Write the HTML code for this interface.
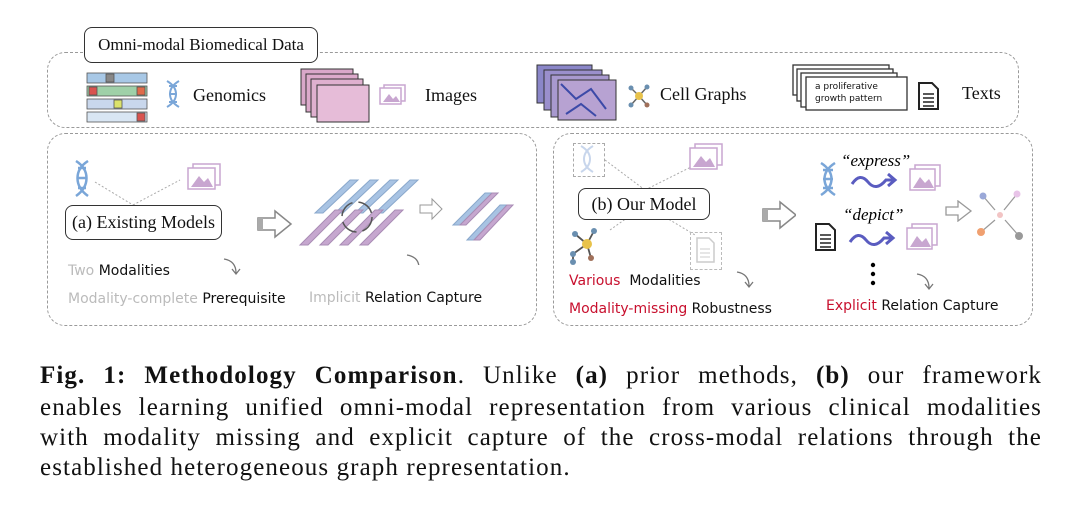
<!DOCTYPE html>
<html><head><meta charset="utf-8"><style>
body{margin:0;width:1080px;height:506px;background:#fff;position:relative;overflow:hidden;font-family:"Liberation Serif",serif}
.a{position:absolute}
.dash{position:absolute;border:1.5px dashed #9a9a9a;border-radius:18px}
.lbl{position:absolute;border:1.3px solid #333;border-radius:8px;background:#fff;font-size:17px;color:#111;text-align:center}
.sr{font-family:"Liberation Serif",serif;font-size:18px;color:#111}
.hand{font-family:"DejaVu Sans",sans-serif;font-size:14px;color:#111;white-space:nowrap}
.g{color:#bbb}.r{color:#c8102e}
.cap{position:absolute;left:40px;width:1002px;font-size:25px;letter-spacing:1.1px;color:#111;text-align:justify;text-align-last:justify;white-space:nowrap;line-height:30px}
</style></head><body>
<div class="dash" style="left:47px;top:52px;width:970px;height:74px"></div>
<div class="lbl" style="left:84px;top:27px;width:232px;height:34px;line-height:34px">Omni-modal Biomedical Data</div>
<svg class="a" style="left:86px;top:72px" width="64" height="52">
<g stroke="#555" stroke-width="0.8">
<rect x="1" y="1" width="60" height="10" fill="#a8c8e6"/><rect x="1" y="14" width="60" height="10" fill="#9fd0a8"/><rect x="1" y="27" width="60" height="10" fill="#c9d7ec"/><rect x="1" y="40" width="60" height="10" fill="#d9e6f3"/>
<rect x="3" y="15" width="8" height="8" fill="#d9534f"/><rect x="51" y="15" width="8" height="8" fill="#e06b4a"/><rect x="28" y="28" width="8" height="8" fill="#dbe26b"/><rect x="51" y="41" width="8" height="8" fill="#d9534f"/><rect x="20" y="2" width="8" height="8" fill="#888"/></g></svg>
<svg class="a" style="left:165px;top:80px" width="16" height="28"><path d="M2 1 C14 8 14 20 2 27 M14 1 C2 8 2 20 14 27 M4 6h8M4 14h8M4 22h8" stroke="#7aa6d8" stroke-width="2" fill="none"/></svg>
<div class="a sr" style="left:193px;top:85px">Genomics</div>
<svg class="a" style="left:300px;top:68px" width="72" height="56">
<rect x="1" y="1" width="52" height="36" fill="#d9a7c9" stroke="#333"/><rect x="6" y="6" width="52" height="38" fill="#dcaacb" stroke="#333"/><rect x="11" y="11" width="52" height="38" fill="#dfb0cf" stroke="#333"/><rect x="17" y="17" width="52" height="37" fill="#e6bcd8" stroke="#333"/></svg>
<svg class="a" style="left:379px;top:84px" width="28" height="22"><rect x="5" y="1" width="21" height="16" fill="none" stroke="#c8a6d0" stroke-width="1.5"/><rect x="1" y="4" width="21" height="16" fill="#fff" stroke="#c8a6d0" stroke-width="1.5"/><path d="M4 18 L10 10 L14 15 L17 12 L21 18z" fill="#c8a6d0"/></svg>
<div class="a sr" style="left:425px;top:85px">Images</div>
<svg class="a" style="left:536px;top:64px" width="84" height="58">
<rect x="1" y="1" width="55" height="38" fill="#8a86c8" stroke="#333"/><rect x="8" y="6" width="58" height="40" fill="#9a8fcc" stroke="#333"/><rect x="15" y="11" width="58" height="42" fill="#a899cf" stroke="#333"/><rect x="22" y="16" width="58" height="40" fill="#b7a2d2" stroke="#333"/>
<path d="M25 20 L40 35 L55 25 L70 45 M30 50 L45 40 L60 52" stroke="#3c4aa8" stroke-width="2" fill="none"/></svg>
<svg class="a" style="left:627px;top:83px" width="24" height="26"><g stroke="#666" stroke-width="1.5"><line x1="12" y1="13" x2="4" y2="5"/><line x1="12" y1="13" x2="20" y2="4"/><line x1="12" y1="13" x2="4" y2="22"/><line x1="12" y1="13" x2="20" y2="22"/></g><circle cx="12" cy="13" r="4" fill="#e8c24a"/><circle cx="4" cy="5" r="2.5" fill="#6a8fb0"/><circle cx="20" cy="4" r="2.5" fill="#6a8fb0"/><circle cx="4" cy="22" r="2.5" fill="#6a8fb0"/><circle cx="20" cy="22" r="2.5" fill="#a0705a"/></svg>
<div class="a sr" style="left:660px;top:84px">Cell Graphs</div>
<svg class="a" style="left:792px;top:64px" width="118" height="50"><rect x="1" y="1" width="96" height="30" fill="#fff" stroke="#333" stroke-width="1.3"/><rect x="5" y="5" width="96" height="32" fill="#fff" stroke="#333" stroke-width="1.3"/><rect x="9" y="9" width="96" height="34" fill="#fff" stroke="#333" stroke-width="1.3"/><rect x="14" y="13" width="101" height="33" fill="#fff" stroke="#333" stroke-width="1.3"/></svg>
<div class="a hand" style="left:815px;top:81px;font-size:9px;line-height:12px">a proliferative<br>growth pattern</div>
<svg class="a" style="left:918px;top:82px" width="22" height="28"><path d="M1 1h13l6 6v20H1z" fill="#fff" stroke="#222" stroke-width="2"/><path d="M5 12h11M5 16h11M5 20h11M5 24h11" stroke="#222" stroke-width="1.5"/></svg>
<div class="a sr" style="left:962px;top:83px">Texts</div>

<div class="dash" style="left:47px;top:133px;width:488px;height:191px"></div>
<svg class="a" style="left:70px;top:160px" width="120" height="60"><path d="M6 1 C20 10 20 26 6 36 M18 1 C4 10 4 26 18 36 M8 8h8M8 18h8M8 28h8" stroke="#7aa6d8" stroke-width="2.5" fill="none"/><line x1="25" y1="22" x2="63" y2="45" stroke="#aaa" stroke-dasharray="2 2"/><line x1="63" y1="45" x2="110" y2="20" stroke="#aaa" stroke-dasharray="2 2"/></svg>
<svg class="a" style="left:186px;top:163px" width="36" height="28"><rect x="7" y="1" width="27" height="21" fill="none" stroke="#c8a6d0" stroke-width="1.5"/><rect x="2" y="5" width="27" height="21" fill="#fff" stroke="#c8a6d0" stroke-width="1.5"/><path d="M5 24 L13 13 L18 19 L22 15 L27 24z" fill="#c8a6d0"/></svg>
<div class="lbl" style="left:65px;top:205px;width:155px;height:33px;line-height:33px;font-size:18px">(a) Existing Models</div>
<svg class="a" style="left:255px;top:209px" width="40" height="30"><path d="M3 9h17V2l16 13-16 13v-7H3z" fill="#fff" stroke="#888" stroke-width="1.5"/><rect x="3" y="9" width="5" height="12" fill="#aaa"/></svg>
<svg class="a" style="left:295px;top:165px" width="230" height="100">
<g fill="#a8c3e3" stroke="#8aa8cc"><path d="M20 48 L55 15 h8 L28 48z"/><path d="M40 48 L75 15 h8 L48 48z"/><path d="M60 48 L95 15 h8 L68 48z"/><path d="M80 48 L115 15 h8 L88 48z"/></g>
<g fill="#c6a7cf" stroke="#a98cb5"><path d="M5 80 L40 45 h8 L13 80z"/><path d="M25 80 L60 45 h8 L33 80z"/><path d="M45 80 L80 45 h8 L53 80z"/><path d="M65 80 L100 45 h8 L73 80z"/></g>
<circle cx="62" cy="52" r="15" fill="none" stroke="#555" stroke-width="1.5" stroke-dasharray="18 6"/>
<path d="M125 40h12v-6l10 10-10 10v-6h-12z" fill="#fff" stroke="#999"/>
<g fill="#a8c3e3" stroke="#8aa8cc"><path d="M158 60 L190 28 h7 L165 60z"/><path d="M172 75 L205 40 h7 L179 75z"/></g>
<g fill="#c6a7cf" stroke="#a98cb5"><path d="M165 60 L197 28 h6 L171 60z"/><path d="M179 75 L212 40 h6 L185 75z"/></g>
<path d="M112 90 q12 2 12 13" stroke="#777" fill="none" stroke-width="1.3"/>
</svg>
<svg class="a" style="left:222px;top:255px" width="20" height="24"><path d="M2 4 q12 2 12 14 M10 14 l4 5 4-5" stroke="#777" fill="none" stroke-width="1.3"/></svg>
<div class="a hand" style="left:68px;top:263px"><span class="g">Two </span>Modalities</div>
<div class="a hand" style="left:68px;top:291px"><span class="g">Modality-complete </span>Prerequisite</div>
<div class="a hand" style="left:309px;top:290px"><span class="g">Implicit </span>Relation Capture</div>

<div class="dash" style="left:553px;top:133px;width:478px;height:191px"></div>
<div class="a" style="left:573px;top:143px;width:30px;height:32px;border:1px dashed #aaa"></div>
<svg class="a" style="left:578px;top:145px" width="20" height="28"><path d="M3 1 C15 8 15 20 3 27 M15 1 C3 8 3 20 15 27" stroke="#c8d6ec" stroke-width="2" fill="none"/></svg>
<svg class="a" style="left:600px;top:150px" width="130" height="95"><line x1="5" y1="10" x2="45" y2="40" stroke="#aaa" stroke-dasharray="2 2"/><line x1="45" y1="40" x2="95" y2="15" stroke="#aaa" stroke-dasharray="2 2"/><line x1="10" y1="80" x2="45" y2="55" stroke="#aaa" stroke-dasharray="2 2"/><line x1="45" y1="55" x2="95" y2="85" stroke="#aaa" stroke-dasharray="2 2"/></svg>
<svg class="a" style="left:688px;top:143px" width="36" height="28"><rect x="7" y="1" width="27" height="21" fill="none" stroke="#c8a6d0" stroke-width="1.5"/><rect x="2" y="5" width="27" height="21" fill="#fff" stroke="#c8a6d0" stroke-width="1.5"/><path d="M5 24 L13 13 L18 19 L22 15 L27 24z" fill="#c8a6d0"/></svg>
<div class="lbl" style="left:578px;top:188px;width:130px;height:30px;line-height:30px;font-size:18px">(b) Our Model</div>
<svg class="a" style="left:567px;top:226px" width="36" height="40"><g stroke="#555" stroke-width="1.8"><line x1="20" y1="18" x2="8" y2="8"/><line x1="20" y1="18" x2="27" y2="5"/><line x1="20" y1="18" x2="6" y2="28"/><line x1="20" y1="18" x2="24" y2="32"/><line x1="6" y1="28" x2="6" y2="36"/></g><circle cx="20" cy="18" r="5" fill="#e8c24a"/><circle cx="8" cy="8" r="3" fill="#6a8fb0"/><circle cx="27" cy="5" r="3" fill="#6a8fb0"/><circle cx="6" cy="28" r="3" fill="#6a8fb0"/><circle cx="24" cy="32" r="3" fill="#a0705a"/><circle cx="6" cy="36" r="3" fill="#6a8fb0"/></svg>
<div class="a" style="left:690px;top:232px;width:30px;height:36px;border:1px dashed #bbb"></div>
<svg class="a" style="left:696px;top:237px" width="20" height="26"><path d="M1 1h12l5 5v19H1z" fill="#fff" stroke="#ccc" stroke-width="1.5"/><path d="M4 12h10M4 16h10M4 20h10" stroke="#ccc"/></svg>
<svg class="a" style="left:760px;top:200px" width="36" height="30"><path d="M3 9h17V2l16 13-16 13v-7H3z" fill="#fff" stroke="#888" stroke-width="1.5"/><rect x="3" y="9" width="5" height="12" fill="#aaa"/></svg>
<div class="a hand" style="left:569px;top:273px"><span class="r">Various</span>&nbsp; Modalities</div>
<div class="a hand" style="left:569px;top:301px"><span class="r">Modality-missing</span> Robustness</div>
<svg class="a" style="left:735px;top:268px" width="20" height="24"><path d="M2 4 q12 2 12 14 M10 14 l4 5 4-5" stroke="#777" fill="none" stroke-width="1.3"/></svg>
<svg class="a" style="left:818px;top:162px" width="20" height="34"><path d="M3 1 C17 10 17 24 3 33 M17 1 C3 10 3 24 17 33 M5 8h10M5 17h10M5 26h10" stroke="#7aa6d8" stroke-width="2.5" fill="none"/></svg>
<div class="a" style="left:841px;top:151px;font-style:italic;font-size:17px">“express”</div>
<svg class="a" style="left:850px;top:170px" width="50" height="22"><path d="M2 14 q8 -12 16 -2 q8 10 18 -2 h8 M38 4 l7 6 -7 6" stroke="#5a5cc0" stroke-width="3" fill="none"/></svg>
<svg class="a" style="left:908px;top:164px" width="34" height="30"><rect x="7" y="1" width="25" height="21" fill="none" stroke="#c8a6d0" stroke-width="1.5"/><rect x="2" y="5" width="25" height="21" fill="#fff" stroke="#c8a6d0" stroke-width="1.5"/><path d="M5 24 L12 13 L17 19 L21 15 L26 24z" fill="#c8a6d0"/></svg>
<div class="a" style="left:843px;top:205px;font-style:italic;font-size:17px">“depict”</div>
<svg class="a" style="left:815px;top:223px" width="22" height="28"><path d="M1 1h13l6 6v20H1z" fill="#fff" stroke="#222" stroke-width="2"/><path d="M5 12h11M5 16h11M5 20h11M5 24h11" stroke="#222" stroke-width="1.5"/></svg>
<svg class="a" style="left:848px;top:228px" width="50" height="22"><path d="M2 14 q8 -12 16 -2 q8 10 18 -2 h8 M38 4 l7 6 -7 6" stroke="#5a5cc0" stroke-width="3" fill="none"/></svg>
<svg class="a" style="left:905px;top:223px" width="34" height="30"><rect x="7" y="1" width="25" height="21" fill="none" stroke="#c8a6d0" stroke-width="1.5"/><rect x="2" y="5" width="25" height="21" fill="#fff" stroke="#c8a6d0" stroke-width="1.5"/><path d="M5 24 L12 13 L17 19 L21 15 L26 24z" fill="#c8a6d0"/></svg>
<svg class="a" style="left:868px;top:262px" width="10" height="26"><circle cx="5" cy="3" r="2.2"/><circle cx="5" cy="12" r="2.2"/><circle cx="5" cy="21" r="2.2"/></svg>
<svg class="a" style="left:944px;top:200px" width="30" height="22"><path d="M2 7h12V1l13 10-13 10v-6H2z" fill="#fff" stroke="#999" stroke-width="1.3"/></svg>
<svg class="a" style="left:975px;top:188px" width="50" height="55"><g stroke="#999" stroke-width="1.2"><line x1="8" y1="8" x2="20" y2="22"/><line x1="42" y1="6" x2="29" y2="22"/><line x1="6" y1="44" x2="20" y2="32"/><line x1="44" y1="48" x2="30" y2="32"/></g><circle cx="25" cy="27" r="3" fill="#f2c4c4"/><circle cx="8" cy="8" r="3.5" fill="#9aa8d8"/><circle cx="42" cy="6" r="3.5" fill="#e8c4e8"/><circle cx="6" cy="44" r="4" fill="#f0a070"/><circle cx="44" cy="48" r="4" fill="#999"/></svg>
<svg class="a" style="left:915px;top:270px" width="20" height="24"><path d="M2 4 q12 2 12 14 M10 14 l4 5 4-5" stroke="#777" fill="none" stroke-width="1.3"/></svg>
<div class="a hand" style="left:826px;top:298px"><span class="r">Explicit</span> Relation Capture</div>

<div class="cap" style="top:361px"><b>Fig. 1: Methodology Comparison</b>. Unlike <b>(a)</b> prior methods, <b>(b)</b> our framework</div>
<div class="cap" style="top:393px">enables learning unified omni-modal representation from various clinical modalities</div>
<div class="cap" style="top:423px">with modality missing and explicit capture of the cross-modal relations through the</div>
<div class="cap" style="top:453px;text-align-last:left">established heterogeneous graph representation.</div>
</body></html>
